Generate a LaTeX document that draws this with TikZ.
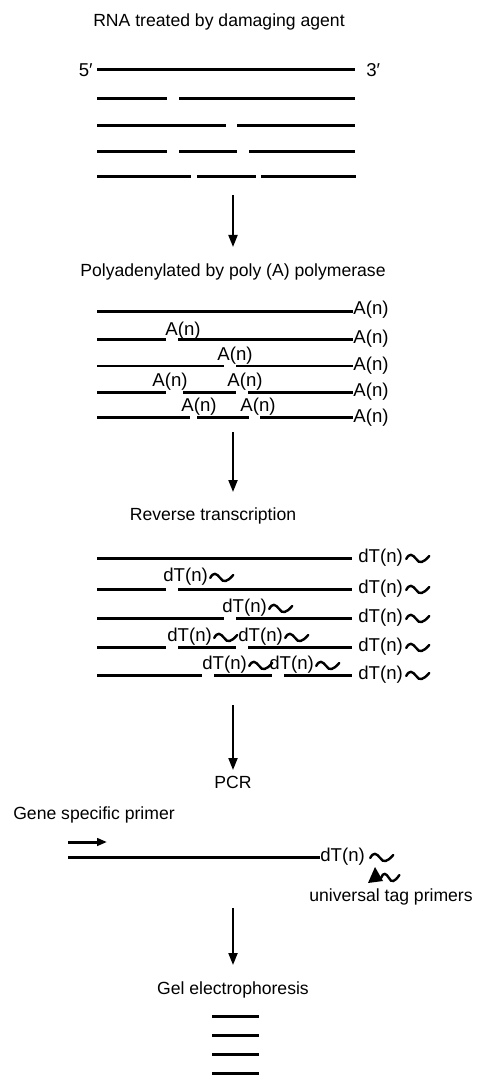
\documentclass[tikz,border=0pt]{standalone}
\usepackage{fontspec}
\setmainfont{Liberation Sans}
\usetikzlibrary{arrows.meta}
\begin{document}
\begin{tikzpicture}[x=0.5pt, y=-0.5pt, font=\fontsize{8.8}{10}\selectfont, >={Triangle[length=6pt,width=4.5pt]},
	strand/.style={line width=1.5pt},
	thinstrand/.style={line width=0.75pt},
	flow/.style={line width=1pt,->},
	tag/.style={inner sep=0pt, font=\fontsize{9.3}{10}\selectfont},
	wave/.pic={\draw[line width=1.2pt, line cap=round] (0,0) .. controls (3,-6) and (6,-5) .. (10,0) .. controls (13,5) and (17,4) .. (23,-3);}]
	\useasboundingbox (0,0) rectangle (478,1075);
	% damaged RNA
	\node (rna) at (219,22) {RNA treated by damaging agent};
	\node[tag,anchor=east] (five) at (93,70) {5′};
	\node[tag,anchor=west] (three) at (366,70) {3′};
	\foreach \y/\a/\b in {70/97/355, 99/97/167, 99/179/355, 126/97/226, 126/237/355,
		152/97/167, 152/179/237, 152/249/355, 177/97/191, 177/197/256, 177/261/356}{
		\draw[strand] (\a,\y) -- (\b,\y);}
	\path (233,195) coordinate (f1a) (233,247) coordinate (f1b);
	\draw[flow] (f1a) -- (f1b);
	% poly(A) tails
	\node (polya) at (233,272) {Polyadenylated by poly (A) polymerase};
	\foreach \y/\a/\b in {311/97/353, 339/97/166, 339/178/353,
		392/97/166, 392/183/236, 392/248/353, 417/97/190, 417/197/249, 417/260/353}{
		\draw[strand] (\a,\y) -- (\b,\y);}
	\draw[thinstrand] (97,366) -- (224,366) (236,366) -- (353,366);
	\foreach \y [count=\i] in {310,339,366,392,418}{
		\node[tag,anchor=west] (aend\i) at (353,\y) {A(n)};}
	\foreach \x/\y [count=\i] in {183/331, 235/356, 170/382, 245/382, 199/407, 258/407}{
		\node[tag] (ain\i) at (\x,\y) {A(n)};}
	\path (233,432) coordinate (f2a) (233,492) coordinate (f2b);
	\draw[flow] (f2a) -- (f2b);
	% reverse transcription
	\node (rt) at (213,516) {Reverse transcription};
	\foreach \y/\a/\b in {558/97/352, 589/97/166, 589/178/352, 618/97/224, 618/236/352,
		647/97/166, 647/178/236, 647/248/352, 675/97/202, 675/214/272, 675/284/352}{
		\draw[strand] (\a,\y) -- (\b,\y);}
	\foreach \y [count=\i] in {558,589,618,647,675}{
		\node[tag,anchor=west] (dtend\i) at (358,\y) {dT(n)};
		\pic at ([xshift=1.5pt,yshift=-0.5pt]dtend\i.east) {wave};}
	\foreach \x/\y [count=\i] in {163/577, 222/608, 167/637, 238/637, 202/665, 269/665}{
		\node[tag,anchor=west] (dtin\i) at (\x,\y) {dT(n)};
		\pic at ([xshift=1pt,yshift=-0.5pt]dtin\i.east) {wave};}
	\path (233,705) coordinate (f3a) (233,770) coordinate (f3b);
	\draw[flow] (f3a) -- (f3b);
	% PCR
	\node (pcr) at (233,782) {PCR};
	\node (gsp) at (94,815) {Gene specific primer};
	\path (68,842) coordinate (gspa) (107,842) coordinate (gspb);
	\draw[strand,-{Triangle[length=5pt,width=3.8pt]}] (gspa) -- (gspb);
	\path (68,857) coordinate (tpa) (320,857) coordinate (tpb);
	\draw[strand] (tpa) -- (tpb);
	\node[tag,anchor=west] (dtpcr) at (tpb) {dT(n)};
	\pic at ([xshift=2.5pt,yshift=-0.5pt]dtpcr.east) {wave};
	\fill (368,883) -- (375,867) -- (383,881) -- cycle;
	\pic[xscale=0.8] at (381,878) {wave};
	\node (utp) at (391,897) {universal tag primers};
	\path (233,908) coordinate (f4a) (233,965) coordinate (f4b);
	\draw[flow] (f4a) -- (f4b);
	% gel
	\node (gel) at (233,990) {Gel electrophoresis};
	\foreach \y in {1016,1035,1054,1073}{
		\draw[strand] (212,\y) -- (259,\y);}
\end{tikzpicture}
\end{document}
